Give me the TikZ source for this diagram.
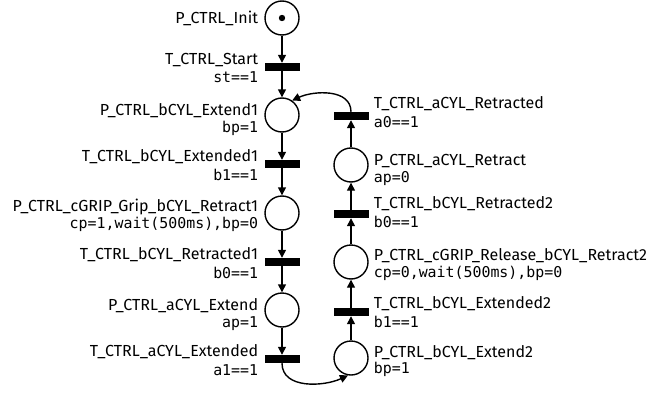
\documentclass[tikz,border=0pt]{standalone}
\usepackage{fontspec}
\setmainfont{Fira Sans}
\newfontfamily\guardfont{DejaVu Sans Mono}
\usetikzlibrary{arrows.meta}
\begin{document}
\begin{tikzpicture}[x=1pt,y=-1pt,
  place/.style={circle,draw,line width=1.4pt,minimum size=34pt,inner sep=0pt},
  trans/.style={rectangle,fill=black,minimum width=35pt,minimum height=8pt,inner sep=0pt},
  arc/.style={line width=1.4pt,-{Triangle[length=8pt,width=8pt]}},
  nm/.style={font=\fontsize{16}{18}\selectfont,inner sep=0pt},
  gd/.style={font=\guardfont\fontsize{14.9}{17}\selectfont,inner sep=0pt}]
\useasboundingbox (0,0) rectangle (650,396);
% left column
\node[place] (pinit) at (282,18) {};
\fill (pinit) circle (3.2pt);
\node[trans] (tstart) at (282,67) {};
\node[place] (pext1) at (282,115) {};
\node[trans] (text1) at (282,164) {};
\node[place] (pgrip) at (282,213) {};
\node[trans] (tret1) at (282,262) {};
\node[place] (paext) at (282,310) {};
\node[trans] (taext) at (282,359) {};
% right column
\node[trans] (taret) at (351,116) {};
\node[place] (paret) at (351,165) {};
\node[trans] (tret2) at (351,214) {};
\node[place] (prel) at (351,262) {};
\node[trans] (text2) at (351,312) {};
\node[place] (pext2) at (351,358) {};
% left labels
\node[nm,anchor=base east] (lpinit) at ([xshift=-6pt,yshift=-6pt]pinit.west) {P\_CTRL\_Init};
\node[nm,anchor=base east] (ltstart) at ([xshift=-6pt,yshift=2.5pt]tstart.west) {T\_CTRL\_Start};
\node[gd,anchor=base east] (gtstart) at ([xshift=-6pt,yshift=-15pt]tstart.west) {st==1};
\node[nm,anchor=base east] (lpext1) at ([xshift=-6pt]pext1.west) {P\_CTRL\_bCYL\_Extend1};
\node[gd,anchor=base east] (gpext1) at ([xshift=-6pt,yshift=-17pt]pext1.west) {bp=1};
\node[nm,anchor=base east] (ltext1) at ([xshift=-6pt,yshift=2.5pt]text1.west) {T\_CTRL\_bCYL\_Extended1};
\node[gd,anchor=base east] (gtext1) at ([xshift=-6pt,yshift=-16pt]text1.west) {b1==1};
\node[nm,anchor=base east] (lpgrip) at ([xshift=-6pt,yshift=2pt]pgrip.west) {P\_CTRL\_cGRIP\_Grip\_bCYL\_Retract1};
\node[gd,anchor=base east] (gpgrip) at ([xshift=-6pt,yshift=-15pt]pgrip.west) {cp=1,wait(500ms),bp=0};
\node[nm,anchor=base east] (ltret1) at ([xshift=-6pt,yshift=2.5pt]tret1.west) {T\_CTRL\_bCYL\_Retracted1};
\node[gd,anchor=base east] (gtret1) at ([xshift=-6pt,yshift=-16pt]tret1.west) {b0==1};
\node[nm,anchor=base east] (lpaext) at ([xshift=-6pt]paext.west) {P\_CTRL\_aCYL\_Extend};
\node[gd,anchor=base east] (gpaext) at ([xshift=-6pt,yshift=-17pt]paext.west) {ap=1};
\node[nm,anchor=base east] (ltaext) at ([xshift=-6pt,yshift=2.5pt]taext.west) {T\_CTRL\_aCYL\_Extended};
\node[gd,anchor=base east] (gtaext) at ([xshift=-6pt,yshift=-16pt]taext.west) {a1==1};
% right labels
\node[nm,anchor=base west] (ltaret) at ([xshift=5pt,yshift=8pt]taret.east) {T\_CTRL\_aCYL\_Retracted};
\node[gd,anchor=base west] (gtaret) at ([xshift=5pt,yshift=-11pt]taret.east) {a0==1};
\node[nm,anchor=base west] (lparet) at ([xshift=5pt]paret.east) {P\_CTRL\_aCYL\_Retract};
\node[gd,anchor=base west] (gparet) at ([xshift=5pt,yshift=-17pt]paret.east) {ap=0};
\node[nm,anchor=base west] (ltret2) at ([xshift=5pt,yshift=6pt]tret2.east) {T\_CTRL\_bCYL\_Retracted2};
\node[gd,anchor=base west] (gtret2) at ([xshift=5pt,yshift=-13pt]tret2.east) {b0==1};
\node[nm,anchor=base west] (lprel) at ([xshift=5pt,yshift=2pt]prel.east) {P\_CTRL\_cGRIP\_Release\_bCYL\_Retract2};
\node[gd,anchor=base west] (gprel) at ([xshift=5pt,yshift=-15pt]prel.east) {cp=0,wait(500ms),bp=0};
\node[nm,anchor=base west] (ltext2) at ([xshift=5pt,yshift=4pt]text2.east) {T\_CTRL\_bCYL\_Extended2};
\node[gd,anchor=base west] (gtext2) at ([xshift=5pt,yshift=-15pt]text2.east) {b1==1};
\node[nm,anchor=base west] (lpext2) at ([xshift=5pt,yshift=1pt]pext2.east) {P\_CTRL\_bCYL\_Extend2};
\node[gd,anchor=base west] (gpext2) at ([xshift=5pt,yshift=-15pt]pext2.east) {bp=1};
% arcs
\draw[arc] (pinit) -- (tstart.north);
\draw[arc] (tstart) -- (pext1);
\draw[arc] (pext1) -- (text1.north);
\draw[arc] (text1) -- (pgrip);
\draw[arc] (pgrip) -- (tret1.north);
\draw[arc] (tret1) -- (paext);
\draw[arc] (paext) -- (taext.north);
\draw[arc] (taext.south) to[out=-90,in=-155] (pext2.-100);
\draw[arc] (pext2) -- (text2.south);
\draw[arc] (text2) -- (prel);
\draw[arc] (prel) -- (tret2.south);
\draw[arc] (tret2) -- (paret);
\draw[arc] (paret) -- (taret.south);
\draw[arc] (taret.north) to[out=90,in=25] (pext1.55);
\end{tikzpicture}
\end{document}
